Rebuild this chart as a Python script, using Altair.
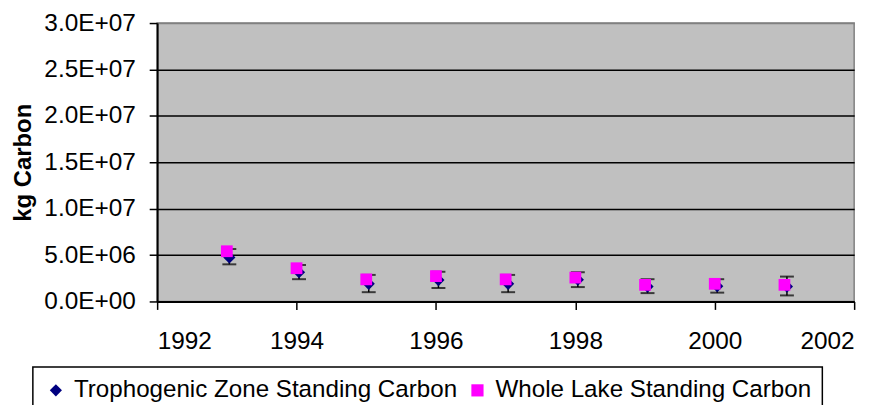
import altair as alt
import pandas as pd

years = [1993, 1994, 1995, 1996, 1997, 1998, 1999, 2000, 2001]
troph = [4.75e6, 3.15e6, 1.9e6, 2.3e6, 1.9e6, 2.35e6, 1.6e6, 1.65e6, 1.6e6]
whole = [5.41e6, 3.58e6, 2.38e6, 2.73e6, 2.38e6, 2.57e6, 1.79e6, 1.9e6, 1.79e6]
err_low = [4.0e6, 2.4e6, 1.0e6, 1.45e6, 1.0e6, 1.55e6, 0.9e6, 0.95e6, 0.65e6]
err_high = [5.65e6, 3.93e6, 2.86e6, 3.2e6, 2.86e6, 3.15e6, 2.4e6, 2.4e6, 2.68e6]

series_names = ["Trophogenic Zone Standing Carbon", "Whole Lake Standing Carbon"]
x_ticks = [1992, 1994, 1996, 1998, 2000, 2002]
y_ticks = [0, 5e6, 1e7, 1.5e7, 2e7, 2.5e7, 3e7]

FONT = "Liberation Sans"

tro_df = pd.DataFrame({"year": years, "value": troph, "series": series_names[0]})
wh_df = pd.DataFrame({"year": years, "value": whole, "series": series_names[1]})
err = pd.DataFrame({"year": years, "lo": err_low, "hi": err_high})

label_expr = (
    "datum.value == 0 ? '0.0E+00' : "
    "format(datum.value / pow(10, floor(log(datum.value) / LN10 + 1e-9)), '.1f') + 'E+' + "
    "pad('' + floor(log(datum.value) / LN10 + 1e-9), 2, '0', 'left')"
)

xs = alt.X("year:Q", scale=alt.Scale(domain=[1992, 2002], nice=False, zero=False),
           axis=alt.Axis(values=x_ticks, format="d", title=None, grid=False,
                         tickSize=8, labelPadding=20, domainWidth=2, tickWidth=1.5))
ys = alt.Y("value:Q", scale=alt.Scale(domain=[0, 3e7], nice=False),
           axis=alt.Axis(values=y_ticks, labelExpr=label_expr, title="kg Carbon",
                         titleFontWeight="bold", titleFontSize=24, titlePadding=8,
                         tickSize=8, labelPadding=14, domainWidth=2, tickWidth=1.5,
                         grid=True, gridWidth=1.5,
                         gridColor={"condition": {"test": "datum.value >= 30000000", "value": "#808080"},
                                    "value": "black"}))

rule = alt.Chart(err).mark_rule(color="black", strokeWidth=1.5, xOffset=2.5).encode(
    x=alt.X("year:Q"), y=alt.Y("lo:Q"), y2="hi:Q")
cap_lo = alt.Chart(err).mark_tick(color="black", size=14, thickness=2, orient="horizontal", xOffset=2.5).encode(
    x="year:Q", y="lo:Q")
cap_hi = alt.Chart(err).mark_tick(color="black", size=14, thickness=2, orient="horizontal", xOffset=2.5).encode(
    x="year:Q", y="hi:Q")

color_scale = alt.Scale(domain=series_names, range=["#000080", "#FF00FF"])
shape_scale = alt.Scale(domain=series_names, range=["diamond", "square"])

tro = alt.Chart(tro_df).mark_point(filled=True, opacity=1, size=150, xOffset=2.5).encode(
    x=xs, y=ys,
    color=alt.Color("series:N", scale=color_scale, title=None),
    shape=alt.Shape("series:N", scale=shape_scale, title=None),
)
wh = alt.Chart(wh_df).mark_point(filled=True, opacity=1, size=140).encode(
    x=xs, y=ys,
    color=alt.Color("series:N", scale=color_scale, title=None),
    shape=alt.Shape("series:N", scale=shape_scale, title=None),
)

chart = alt.layer(rule, cap_lo, cap_hi, tro, wh).properties(
    width=701, height=280,
    autosize=alt.AutoSizeParams(type="none"),
    padding={"left": 150, "top": 14, "right": 27, "bottom": 103},
    background="white",
).configure_view(
    fill="#C0C0C0", stroke="#808080", strokeWidth=1.5
).configure_axis(
    labelFont=FONT, labelFontSize=24.5, labelColor="black",
    titleFont=FONT, titleColor="black",
    domainColor="black", tickColor="black",
).configure_legend(
    orient="none", legendX=-125, legendY=346, direction="horizontal",
    fillColor="white", strokeColor="black", strokeWidth=1.5, padding=11,
    labelFont=FONT, labelFontSize=24.3, labelColor="black", labelLimit=600,
    symbolSize=150, symbolStrokeWidth=0, labelOffset=6, columnPadding=8,
)

chart.save("out.html", embed_options={"renderer": "svg", "actions": False})
